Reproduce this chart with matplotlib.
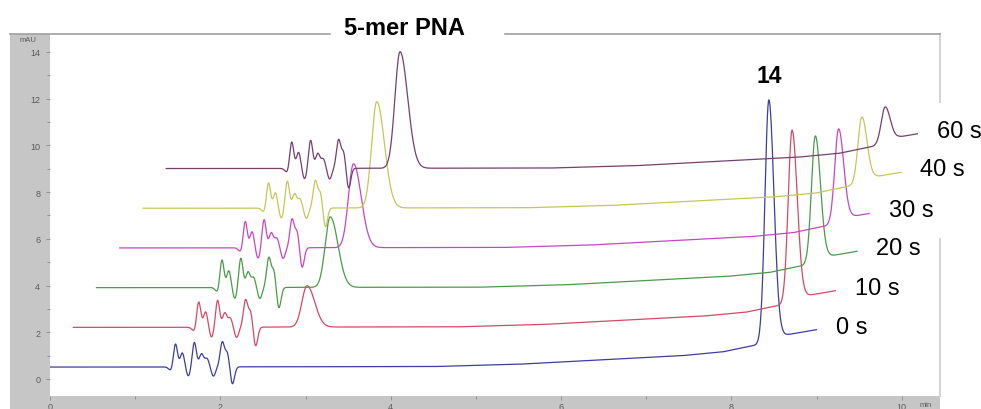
import numpy as np
import matplotlib
matplotlib.use('Agg')
import matplotlib.pyplot as plt
from matplotlib.patches import Rectangle
from matplotlib.lines import Line2D

plt.rcParams['font.family'] = ['Liberation Sans', 'DejaVu Sans']

# reaction time of each injection and its trace colour
labels = ['0 s', '10 s', '20 s', '30 s', '40 s', '60 s']
colors = ['#3d3d9e', '#d24a64', '#4a9a4a', '#c447c4', '#c6c65a', '#74406c']

# peak heights above baseline (mAU)
pna_height = [0.0, 1.77, 3.02, 3.59, 4.55, 4.99]
cmpd14_height = [10.3, 7.31, 5.36, 3.96, 2.77, 1.50]
cluster_scale = [1.0, 1.1, 1.2, 1.15, 1.1, 1.15]
run_end = [9.0, 8.95, 8.93, 8.8, 8.9, 8.82]

# retention time (min), left width, right width
pna_peak = (2.745, 0.06, 0.09)
cmpd14_peak = (8.44, 0.045, 0.06)

# injection disturbance
cluster_t = [1.43, 1.472, 1.554, 1.625, 1.695, 1.779, 1.843, 1.918, 2.023, 2.082, 2.141]
cluster_h = [-0.2, 1.05, 0.6, -0.4, 1.05, 0.55, 0.35, -0.4, 1.05, 0.6, -0.75]
cluster_w = [0.03, 0.024, 0.024, 0.025, 0.024, 0.025, 0.025, 0.025, 0.025, 0.024, 0.025]

# baseline drift over the run
drift_t = [0, 4.5, 5.5, 6.6, 7.4, 7.9, 8.3, 8.6, 9.0, 10.5]
drift_v = [0, 0.02, 0.12, 0.33, 0.48, 0.65, 0.95, 1.35, 1.6, 1.7]

# stacking offsets between consecutive traces
shift_t = 0.273
shift_y = 1.70
base_y = 0.51


def bigauss(t, t0, h, sl, sr):
    s = np.where(t < t0, sl, sr)
    return h * np.exp(-0.5 * ((t - t0) / s) ** 2)


W, H = 981, 410
fig = plt.figure(figsize=(W / 100, H / 100), dpi=100)

# grey instrument frame
band = '#c6c6c6'
fig.patches.append(Rectangle((10 / W, 0), 40 / W, 375 / H, transform=fig.transFigure,
                             facecolor=band, edgecolor='none', zorder=0))
fig.patches.append(Rectangle((10 / W, 0), 930 / W, 13 / H, transform=fig.transFigure,
                             facecolor=band, edgecolor='none', zorder=0))
ytop = 1 - 34.5 / H
for x0, x1 in [(10, 330), (505, 940)]:
    fig.lines.append(Line2D([x0 / W, x1 / W], [ytop, ytop], transform=fig.transFigure,
                            color='#a0a0a0', lw=1.2))

ax = fig.add_axes([50 / W, 13 / H, 890 / W, 362 / H])
ax.set_facecolor('none')
ax.set_zorder(2)

tops = []
for i in range(len(labels)):
    t = np.linspace(0, run_end[i], 3000)
    y = np.interp(t, drift_t, drift_v)
    for tc, hc, wc in zip(cluster_t, cluster_h, cluster_w):
        y += cluster_scale[i] * hc * np.exp(-0.5 * ((t - tc) / wc) ** 2)
    y += bigauss(t, pna_peak[0], pna_height[i], pna_peak[1], pna_peak[2])
    y += bigauss(t, cmpd14_peak[0], cmpd14_height[i], cmpd14_peak[1], cmpd14_peak[2])
    x = t + i * shift_t
    y = y + base_y + i * shift_y
    ax.plot(x, y, color=colors[i], lw=0.9, zorder=2)
    tops.append((x, y))

    ax.annotate(labels[i], xy=(x[-1], y[-1]), xytext=(14, 4), textcoords='offset points',
                ha='left', va='center_baseline', fontsize=17, zorder=6,
                annotation_clip=False,
                bbox=dict(boxstyle='square,pad=0.7', facecolor='white', edgecolor='none'))

# peak labels
x0, y0 = tops[0]
k = np.argmax(np.where(x0 > 6, y0, -1))
ax.annotate('14', xy=(x0[k], y0[k]), xytext=(0, 19.5), textcoords='offset points',
            ha='center', va='center_baseline', fontsize=16.5, fontweight='bold',
            annotation_clip=False)
x5, y5 = tops[-1]
k = np.argmax(np.where(x5 < 5, y5, -1))
ax.annotate('5-mer PNA', xy=(x5[k], y5[k]), xytext=(3.5, 19.5), textcoords='offset points',
            ha='center', va='center_baseline', fontsize=17, fontweight='bold',
            annotation_clip=False)

ax.set_xlim(0, 10.45)
ax.set_ylim(-0.73, 14.77)
ax.set_xticks(np.arange(0, 11, 2))
ax.set_xticks(np.arange(0, 11, 1), minor=True)
ax.set_yticks(np.arange(0, 15, 2))
ax.set_yticks(np.arange(0, 15, 1), minor=True)
ax.tick_params(which='both', direction='out', colors='#8a8a8a', labelcolor='#5a5a5a',
               labelsize=6.5, width=0.6)
ax.tick_params(axis='x', which='major', length=3, pad=1)
ax.tick_params(axis='y', which='major', length=3, pad=4)
ax.tick_params(which='minor', length=2)
for s in ['left', 'bottom', 'top']:
    ax.spines[s].set_visible(False)
ax.spines['right'].set_color('#d4d4d4')
ax.spines['right'].set_linewidth(1.5)

fig.text(28 / W, 1 - 41 / H, 'mAU', fontsize=5.5, color='#5a5a5a', ha='center', va='center')
fig.text(926 / W, 1 - 406 / H, 'min', fontsize=5.5, color='#5a5a5a', ha='center', va='center')

fig.savefig('out.png', dpi=100, facecolor='white')
